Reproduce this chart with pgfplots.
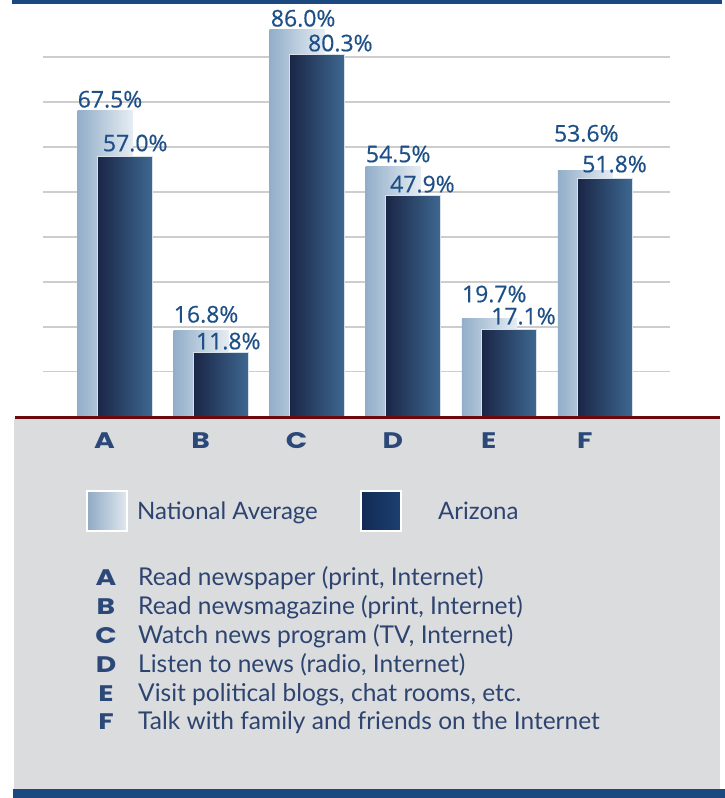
\documentclass[border=0pt]{standalone}
\usepackage{pgfplots}
\pgfplotsset{compat=1.18}
\usepackage{pgfplotstable}
\usepackage{fontspec}
\setmainfont{Lato}
\newfontfamily\labfont{Open Sans}[FakeBold=0.5]
\newfontfamily\letfont{Poppins}[FakeStretch=1.25]
\definecolor{bandblue}{RGB}{27,72,126}
\definecolor{panelgray}{RGB}{219,220,222}
\definecolor{basered}{RGB}{106,10,10}
\definecolor{labblue}{RGB}{30,80,135}
\definecolor{txtblue}{RGB}{46,68,112}
\definecolor{letblue}{RGB}{43,72,120}
\definecolor{natL}{RGB}{146,174,201}
\definecolor{natR}{RGB}{230,237,243}
\definecolor{azL}{RGB}{26,38,70}
\definecolor{azR}{RGB}{62,104,145}
\definecolor{gridgray}{RGB}{205,205,205}
\definecolor{legNatL}{RGB}{143,170,196}
\definecolor{legNatR}{RGB}{225,232,240}
\definecolor{legAzL}{RGB}{18,42,85}
\definecolor{legAzR}{RGB}{28,64,112}

\pgfplotstableread{
x v dx dy
0 67.5 0 2.7
1 16.8 0 8.2
2 86.0 1 3.2
3 54.5 0 4.5
4 19.7 0 15.9
5 53.6 -4 29.1
}\national

\pgfplotstableread{
x v dx dy
0 57.0 5 4.4
1 11.8 2 3
2 80.3 18 3
3 47.9 4 2.9
4 17.1 9 4.9
5 51.8 4 6
}\arizona

\begin{document}
\begin{tikzpicture}[x=1pt,y=1pt]
\useasboundingbox (0,0) rectangle (725,798);
\fill[white] (0,0) rectangle (725,798);
\fill[panelgray] (14,9) rectangle (720,379);
\fill[bandblue] (13,0) rectangle (725,9);
\fill[bandblue] (12,794) rectangle (722,798);
\begin{axis}[
  at={(43pt,380.3pt)}, anchor=south west, scale only axis,
  width=627pt, height=412.7pt,
  xmin=-0.75, xmax=5.777, ymin=0, ymax=94.87,
  axis line style={draw=none},
  major tick length=0pt,
  ytick={10.62,20.92,31.26,41.61,51.95,62.30,72.64,82.99},
  yticklabels={},
  ymajorgrids, grid style={gridgray, line width=1.8pt},
  xtick={0,1,2,3,4,5}, xticklabels={A,B,C,D,E,F},
  xticklabel style={font=\letfont\bfseries\fontsize{22.5}{22.5}\selectfont, text=letblue, anchor=base, yshift=-30.5pt, xshift=-10.5pt, inner sep=0pt},
  bar width=55pt,
  clip=false,
  nodes near coords={\pgfmathprintnumber[fixed,fixed zerofill,precision=1,assume math mode=true]{\pgfplotspointmeta}\%},
  every node near coord/.style={inner sep=0pt, text depth=0pt, font=\labfont\fontsize{23}{23}\selectfont, text=labblue, xshift={\dx pt-27.5pt}, yshift={\dy pt}},
  natbar/.style={ybar, bar shift=-10pt, left color=natL, right color=natR, draw=none,
    point meta=\thisrow{v},
    visualization depends on={\thisrow{dx}\as\dx},
    visualization depends on={\thisrow{dy}\as\dy},
    every node near coord/.append style={anchor=south west, xshift=-10pt}},
  azbar/.style={ybar, bar shift=10pt, left color=azL, right color=azR, draw=white!80!azR, line width=0.8pt,
    point meta=\thisrow{v},
    visualization depends on={\thisrow{dx}\as\dx},
    visualization depends on={\thisrow{dy}\as\dy},
    every node near coord/.append style={anchor=south west, xshift=10pt}},
]
\pgfplotsinvokeforeach{0,...,5}{
  \addplot[natbar, x filter/.expression={abs(x-#1)<0.01 ? x : nan}]
    table[x=x, y expr=\thisrow{v}+3.15] {\national};
}
\pgfplotsinvokeforeach{0,...,5}{
  \addplot[azbar, x filter/.expression={abs(x-#1)<0.01 ? x : nan}]
    table[x=x, y expr=\thisrow{v}+3.15] {\arizona};
}
\end{axis}
\fill[basered] (15,378.6) rectangle (720,381.6);
% legend
\shade[left color=legNatL, right color=legNatR] (87,267) rectangle (127,307);
\draw[white, line width=2.2pt] (87,267) rectangle (127,307);
\node[anchor=base west, inner sep=0pt, font=\fontsize{24}{24}\selectfont, text=txtblue] at (137,278) {National Average};
\shade[left color=legAzL, right color=legAzR] (361,267) rectangle (401,307);
\draw[white, line width=2.2pt] (361,267) rectangle (401,307);
\node[anchor=base west, inner sep=0pt, font=\fontsize{24}{24}\selectfont, text=txtblue] at (438,278) {Arizona};
% descriptions
\foreach \L/\T [count=\i from 0] in {A/{Read newspaper (print, Internet)},B/{Read newsmagazine (print, Internet)},C/{Watch news program (TV, Internet)},D/{Listen to news (radio, Internet)},E/{Visit political blogs, chat rooms, etc.},F/{Talk with family and friends on the Internet}}{
  \node[anchor=base, inner sep=0pt, font=\letfont\bfseries\fontsize{22.5}{22.5}\selectfont, text=letblue] at (106,{212.5-28.9*\i}) {\L};
  \node[anchor=base west, inner sep=0pt, font=\fontsize{24.5}{24.5}\selectfont, text=txtblue] at (138,{212.5-28.9*\i}) {\T};
}
\end{tikzpicture}
\end{document}
